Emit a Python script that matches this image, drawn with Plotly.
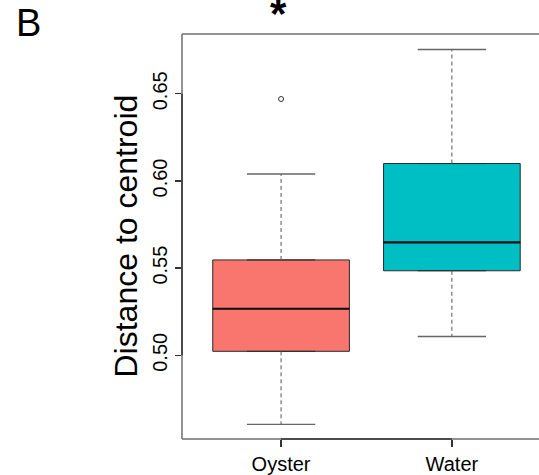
import plotly.graph_objects as go

# ---- data ----
categories = ["Oyster", "Water"]
q1 = [0.5023, 0.5485]
median = [0.5267, 0.5648]
q3 = [0.5547, 0.6100]
lower_whisker = [0.4604, 0.5108]
upper_whisker = [0.6040, 0.6754]
outlier_group = ["Oyster"]
outlier_values = [0.647]
fill_colors = ["#F8766D", "#00BFC4"]
y_ticks = [0.50, 0.55, 0.60, 0.65]
y_tick_labels = ["0.50", "0.55", "0.60", "0.65"]

FONT = "Liberation Sans, Arial, Helvetica, sans-serif"
positions = [i + 1 for i in range(len(categories))]
BOX_W = 0.8
CAP_HALF = 0.2

W, H = 539, 475
L, R, T, B = 182, 0, 34, 32
PW, PH = W - L - R, H - T - B


def px_x(x):
    return (x - L) / PW


def px_y(y):
    return (H - B - y) / PH


fig = go.Figure()

for i, cat in enumerate(categories):
    p = positions[i]
    fig.add_trace(go.Scatter(
        x=[p, p, None, p, p],
        y=[q3[i], upper_whisker[i], None, q1[i], lower_whisker[i]],
        mode="lines", line=dict(color="#555555", width=1, dash="4px,3px"),
        hoverinfo="skip", showlegend=False))
    fig.add_trace(go.Scatter(
        x=[p - CAP_HALF, p + CAP_HALF, None, p - CAP_HALF, p + CAP_HALF],
        y=[upper_whisker[i], upper_whisker[i], None, lower_whisker[i], lower_whisker[i]],
        mode="lines", line=dict(color="#666666", width=1.3),
        hoverinfo="skip", showlegend=False))
    fig.add_trace(go.Box(
        x=[p], q1=[q1[i]], median=[median[i]], q3=[q3[i]],
        lowerfence=[q1[i]], upperfence=[q3[i]],
        width=BOX_W, fillcolor=fill_colors[i],
        line=dict(color="#2a2a2a", width=1),
        boxpoints=False, name=cat, showlegend=False, hoverinfo="skip"))
    fig.add_trace(go.Scatter(
        x=[p - BOX_W / 2, p + BOX_W / 2], y=[median[i], median[i]],
        mode="lines", line=dict(color="#111111", width=2.2),
        hoverinfo="skip", showlegend=False))

fig.add_trace(go.Scatter(
    x=[positions[categories.index(g)] for g in outlier_group], y=outlier_values,
    mode="markers",
    marker=dict(symbol="circle-open", size=5, color="#333333", line=dict(width=1)),
    hoverinfo="skip", showlegend=False))

frame = dict(color="#6e6e6e", width=1.5)
axis_line = dict(color="#333333", width=1.5)
shapes = [
    dict(type="line", xref="paper", yref="paper", x0=0, x1=1, y0=1, y1=1, line=frame),
    dict(type="line", xref="paper", yref="paper", x0=0, x1=0, y0=0, y1=1, line=frame),
    dict(type="line", xref="paper", yref="paper", x0=0, x1=1, y0=0, y1=0, line=frame),
    dict(type="line", xref="paper", yref="y", x0=0, x1=0, y0=y_ticks[0], y1=y_ticks[-1], line=axis_line),
    dict(type="line", xref="x", yref="paper", x0=positions[0], x1=positions[-1], y0=0, y1=0, line=axis_line),
]

fig.update_layout(
    width=W, height=H,
    margin=dict(l=L, r=R, t=T, b=B),
    paper_bgcolor="white", plot_bgcolor="white",
    font=dict(family=FONT, color="black"),
    shapes=shapes,
    xaxis=dict(range=[0.42, 2.51], tickvals=positions, ticktext=categories,
               showgrid=False, zeroline=False, showline=False,
               ticks="outside", ticklen=7, tickwidth=1.3, tickcolor="#333333",
               tickfont=dict(size=20, family=FONT, color="black")),
    yaxis=dict(range=[0.452, 0.6843], tickvals=y_ticks, ticktext=y_tick_labels,
               showgrid=False, zeroline=False, showline=False,
               ticks="outside", ticklen=6, tickwidth=1.3, tickcolor="#333333",
               tickangle=-90,
               tickfont=dict(size=20, family=FONT, color="black")),
    annotations=[
        dict(text="Distance to centroid", xref="paper", yref="paper",
             x=px_x(125), y=px_y(238.5), xanchor="center", yanchor="middle",
             textangle=-90, showarrow=False, font=dict(size=32, family=FONT, color="black")),
        dict(text="B", xref="paper", yref="paper",
             x=px_x(28.5), y=px_y(23), xanchor="center", yanchor="middle",
             showarrow=False, font=dict(size=38, family=FONT, color="black")),
        dict(text="<b>*</b>", xref="paper", yref="paper",
             x=px_x(278), y=px_y(39), xanchor="center", yanchor="bottom",
             showarrow=False, font=dict(size=42, family=FONT, color="black")),
    ],
)

fig.write_html(
    "out.html",
    config={"displayModeBar": False, "staticPlot": True},
    post_script="document.body.style.margin='0';document.body.style.overflow='hidden';",
)
